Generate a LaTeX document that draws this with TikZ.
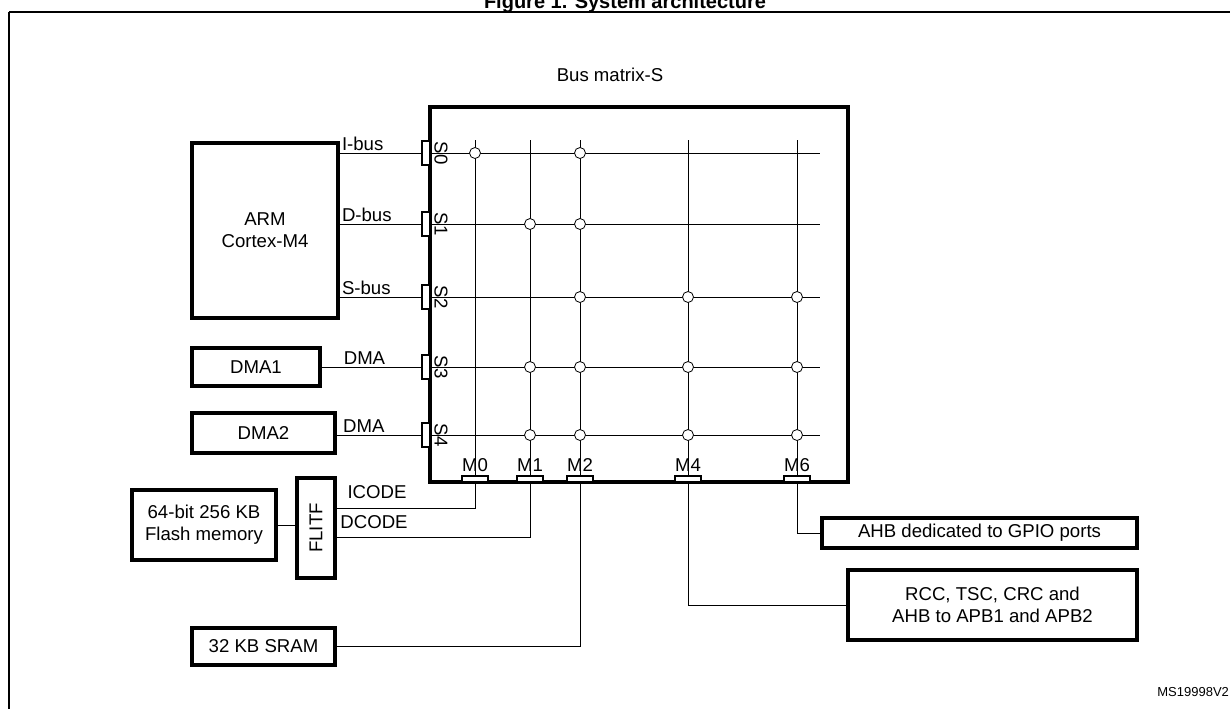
\documentclass[tikz,border=0pt]{standalone}
\usepackage{fontspec}
\setmainfont{Liberation Sans}
\usetikzlibrary{positioning,calc}

\tikzset{
  blk/.style={draw, line width=1.6pt, align=center, inner sep=0pt},
  port/.style={draw, line width=1.3pt, fill=white, inner sep=0pt},
  dot/.style={draw, fill=white, circle, inner sep=0pt, minimum size=5.5pt},
  lbl/.style={font=\fontsize{9.3}{11}\selectfont, inner sep=1pt},
}

\begin{document}
\begin{tikzpicture}[x=0.5pt,y=-0.5pt, font=\fontsize{9.3}{11}\selectfont]
    \useasboundingbox (0,0) rectangle (1230,708);
    % Frame and title
    \draw[line width=1.3pt] (9,12) -- (1240,12);
    \draw[line width=1.3pt] (9,12) -- (9,720);
    \node[font=\bfseries\fontsize{10}{12}\selectfont] (title) at (625,3) {Figure 1. System architecture};
    \node[font=\fontsize{6.5}{8}\selectfont, anchor=east] (ref) at (1236,692) {MS19998V2};

    % Bus matrix
    \node[blk, minimum width=209pt, minimum height=187.5pt] (bm) at (639,294.5) {};
    \node[lbl] (bmlabel) at (610,75) {Bus matrix-S};

    % Master columns
    \foreach \m/\x in {0/475,1/530,2/580,4/688,6/797} {
        \coordinate (c\m) at (\x,140);
        \draw (c\m) -- (\x,482);
        \node[port, minimum width=13pt, minimum height=3pt] (M\m) at (\x,479) {};
        \node[lbl] (M\m lbl) at (\x,465) {M\m};
    }

    % Slave rows
    \foreach \s/\y in {0/153,1/224,2/297,3/367,4/435} {
        \coordinate (r\s) at (820,\y);
        \node[port, minimum width=4pt, minimum height=12pt] (S\s) at (426,\y) {};
        \draw (S\s.east) -- (r\s);
        \node[lbl, rotate=-90] (S\s lbl) at (441,\y) {S\s};
    }

    % Crossings
    \foreach \x/\y in {475/153,580/153,
                       530/224,580/224,
                       580/297,688/297,797/297,
                       530/367,580/367,688/367,797/367,
                       530/435,580/435,688/435,797/435}
        \node[dot] at (\x,\y) {};

    % Masters
    \node[blk, minimum width=73pt, minimum height=87.5pt] (arm) at (265,230.5) {ARM\\Cortex-M4};
    \node[blk, minimum width=64pt, minimum height=19pt] (dma1) at (256,367) {DMA1};
    \node[blk, minimum width=71.5pt, minimum height=20pt] (dma2) at (263.5,433) {DMA2};
    \draw (arm.east |- S0) -- (S0.west) node[lbl, pos=0.0, above right] {I-bus};
    \draw (arm.east |- S1) -- (S1.west) node[lbl, pos=0.0, above right] {D-bus};
    \draw (arm.east |- S2) -- (S2.west) node[lbl, pos=0.0, above right] {S-bus};
    \draw (dma1.east |- S3) -- (S3.west) node[lbl, pos=0.2, above right] {DMA};
    \draw (dma2.east |- S4) -- (S4.west) node[lbl, pos=0.05, above right] {DMA};

    % Slaves
    \node[blk, minimum width=72pt, minimum height=35pt] (flash) at (204,525) {64-bit 256 KB\\Flash memory};
    \node[blk, minimum width=19pt, minimum height=50pt] (flitf) at (316,528) {};
    \node[rotate=90] (flitflbl) at (flitf) {FLITF};
    \node[blk, minimum width=157.5pt, minimum height=15pt] (gpio) at (979.5,533) {AHB dedicated to GPIO ports};
    \node[blk, minimum width=144.5pt, minimum height=35pt] (rcc) at (992.5,605) {RCC, TSC, CRC and\\AHB to APB1 and APB2};
    \node[blk, minimum width=71.5pt, minimum height=18.5pt] (sram) at (263.5,646.5) {32 KB SRAM};

    \draw (flash.east) -- (flash.east -| flitf.west);
    \draw (flitf.east |- 0,508) -| (M0.south);
    \node[lbl] (icode) at (377,492) {ICODE};
    \draw (flitf.east |- 0,537) -| (M1.south);
    \node[lbl] (dcode) at (374,522) {DCODE};
    \draw (sram.east) -| (M2.south);
    \draw (gpio.west) -| (M6.south);
    \draw (rcc.west) -| (M4.south);
\end{tikzpicture}
\end{document}
